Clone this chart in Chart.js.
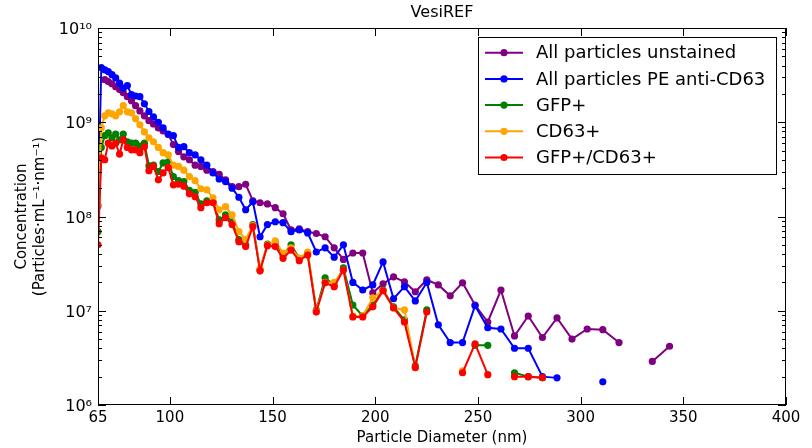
<!DOCTYPE html>
<html>
<head>
<meta charset="utf-8">
<script src="https://cdn.jsdelivr.net/npm/chart.js@4.4.1/dist/chart.umd.min.js"></script>
<style>
  body { margin: 0; background: #fff; }
</style>
</head>
<body>
<canvas id="chart" width="812" height="448"></canvas>
<script>
// particle diameter bins (nm)
const diameter = [
  65.0, 66.6, 68.3, 70.0, 71.8, 73.6, 75.5, 77.3, 79.3, 81.3,
  83.3, 85.4, 87.6, 89.8, 92.0, 94.4, 96.7, 99.2, 101.7, 104.2,
  106.8, 109.5, 112.3, 115.1, 118.0, 121.0, 124.0, 127.1, 130.3, 133.6,
  136.9, 140.4, 143.9, 147.5, 151.3, 155.1, 159.0, 163.0, 167.1, 171.3,
  175.6, 180.0, 184.5, 189.1, 193.9, 198.8, 203.8, 208.9, 214.2, 219.5,
  225.1, 230.7, 236.5, 242.5, 248.6, 254.8, 261.2, 267.8, 274.5, 281.4,
  288.5, 295.8, 303.2, 310.8, 318.7, 326.7, 334.9, 343.3
];

const unstained = [
  null, null, 2.83e9, 2.7e9, 2.56e9, 2.38e9, 2.22e9, 2.06e9, 1.87e9, 1.69e9,
  1.5e9, 1.32e9, 1.17e9, 1.04e9, 9.6e8, 8.7e8, 8.1e8, 7.4e8, 5.8e8, 4.9e8,
  4.3e8, 4.0e8, 3.5e8, 3.4e8, 3.1e8, 3.0e8, 2.8e8, 2.45e8, 2.07e8, 2.07e8,
  2.2e8, 1.47e8, 1.4e8, 1.36e8, 1.24e8, 1.07e8, 7.2e7, 7.4e7, 6.9e7, 6.6e7,
  6.1e7, 4.65e7, 3.5e7, 4.1e7, 4.1e7, 1.55e7, 1.93e7, 2.29e7, 2.03e7, 1.59e7,
  2.13e7, 1.88e7, 1.44e7, 1.98e7, 1.15e7, 7.6e6, 1.66e7, 5.4e6, 8.8e6, 5.2e6,
  8.4e6, 5.0e6, 6.4e6, 6.3e6, 4.6e6, null, 2.9e6, 4.2e6
];

const peAntiCd63 = [
  1.3e8, 3.8e9, 3.6e9, 3.45e9, 3.2e9, 2.95e9, 2.6e9, 2.3e9, 2.45e9, 1.96e9,
  1.9e9, 1.87e9, 1.57e9, 1.3e9, 1.14e9, 1.0e9, 8.7e8, 7.5e8, 7.2e8, 5.4e8,
  5.5e8, 4.75e8, 4.5e8, 4.0e8, 3.5e8, 2.9e8, 2.5e8, 2.35e8, 2.0e8, 1.6e8,
  1.18e8, 1.43e8, 6.1e7, 8.2e7, 8.8e7, 8.6e7, 6.9e7, 7.2e7, 6.7e7, 4.2e7,
  4.65e7, 3.7e7, 5.0e7, 2.0e7, 1.66e7, 1.88e7, 3.3e7, 1.34e7, 1.8e7, 1.27e7,
  2.0e7, 7.1e6, 4.6e6, 4.6e6, 1.13e7, 6.6e6, 6.4e6, 4.0e6, 4.0e6, 2.0e6,
  1.94e6, null, null, 1.76e6, null, null, null, null
];

const gfpPos = [
  6.9e7, 5.4e8, 7.2e8, 7.7e8, 6.85e8, 7.5e8, 6.5e8, 7.5e8, 6.2e8, 6.0e8,
  6.0e8, 5.6e8, 6.0e8, 3.45e8, 3.5e8, 3.0e8, 3.7e8, 3.8e8, 2.65e8, 2.4e8,
  2.35e8, 1.9e8, 1.8e8, 1.36e8, 1.47e8, 1.43e8, 9.2e7, 1.04e8, 8.8e7, 5.7e7,
  5.0e7, 8.2e7, 2.7e7, 5.1e7, 5.3e7, 3.9e7, 5.0e7, 3.6e7, 4.1e7, 1.02e7,
  2.24e7, 1.88e7, 2.85e7, 1.15e7, 8.8e6, 1.15e7, 1.66e7, 1.1e7, 8.0e6, 2.6e6,
  1.02e7, null, null, null, 4.3e6, 4.3e6, null, 2.2e6, 2.0e6, 1.95e6,
  null, null, null, null, null, null, null, null
];

const cd63Pos = [
  1.33e8, 8.7e8, 1.17e9, 1.26e9, 1.23e9, 1.17e9, 1.29e9, 1.5e9, 1.29e9, 1.26e9,
  1.09e9, 9.4e8, 7.9e8, 6.85e8, 6.2e8, 5.4e8, 4.75e8, 4.5e8, 3.5e8, 3.4e8,
  3.1e8, 2.65e8, 2.4e8, 1.97e8, 1.92e8, 1.58e8, 1.18e8, 1.27e8, 1.04e8, 6.9e7,
  5.7e7, 8.0e7, 2.8e7, 5.0e7, 5.5e7, 4.1e7, 4.65e7, 3.6e7, 4.2e7, 1.0e7,
  2.0e7, 2.0e7, 2.7e7, 8.8e6, 8.8e6, 1.37e7, 1.63e7, 1.07e7, 1.02e7, 2.5e6,
  null, null, null, 2.3e6, null, null, null, null, null, null,
  null, null, null, null, null, null, null, null
];

const gfpCd63Pos = [
  5.0e7, 4.2e8, 4.0e8, 6.0e8, 5.6e8, 6.0e8, 4.6e8, 6.5e8, 5.4e8, 5.1e8,
  5.1e8, 4.75e8, 5.5e8, 3.06e8, 3.4e8, 2.45e8, 2.9e8, 3.3e8, 2.17e8, 2.2e8,
  2.1e8, 1.74e8, 1.62e8, 1.24e8, 1.4e8, 1.4e8, 8.4e7, 9.7e7, 8.2e7, 5.4e7,
  4.8e7, 7.8e7, 2.65e7, 4.9e7, 4.8e7, 3.6e7, 4.4e7, 3.4e7, 3.9e7, 9.7e6,
  1.98e7, 1.8e7, 2.7e7, 8.6e6, 8.6e6, 1.1e7, 1.63e7, 1.07e7, 7.6e6, 2.5e6,
  9.7e6, null, null, 2.2e6, 4.45e6, 2.1e6, null, 2.0e6, 2.0e6, 1.95e6,
  null, null, null, null, null, null, null, null
];

const seriesNames = ["All particles unstained", "All particles PE anti-CD63", "GFP+", "CD63+", "GFP+/CD63+"];
const seriesColors = ["#800080", "#0000ff", "#008000", "#ffa500", "#ff0000"];
const seriesValues = [unstained, peAntiCd63, gfpPos, cd63Pos, gfpCd63Pos];

const xTicks = [65, 100, 150, 200, 250, 300, 350, 400];
const yTicks = [1e6, 1e7, 1e8, 1e9, 1e10];
const yTickLabels = ["10⁶", "10⁷", "10⁸", "10⁹", "10¹⁰"];
const chartTitle = "VesiREF";

const FONT = "'DejaVu Sans', sans-serif";
Chart.defaults.color = "#000";
Chart.defaults.font.family = FONT;

const datasets = seriesValues.map((vals, i) => ({
  label: seriesNames[i],
  data: diameter.map((d, j) => ({ x: d, y: vals[j] })),
  borderColor: seriesColors[i],
  backgroundColor: seriesColors[i],
  pointBackgroundColor: seriesColors[i],
  pointBorderColor: seriesColors[i],
  pointBorderWidth: 0,
  pointRadius: 3.6,
  borderWidth: 2,
  tension: 0,
  spanGaps: false,
  clip: 0,
  order: seriesNames.length - i
}));

// inward ticks + axes box, like the classic matplotlib look
const frame = {
  id: "frame",
  afterDatasetsDraw(chart) {
    const { ctx, chartArea: a, scales: { x, y } } = chart;
    ctx.save();
    ctx.strokeStyle = "#000";
    ctx.lineWidth = 1;
    ctx.beginPath();
    xTicks.forEach(v => {
      const px = Math.round(x.getPixelForValue(v)) + 0.5;
      ctx.moveTo(px, a.bottom); ctx.lineTo(px, a.bottom - 8);
      ctx.moveTo(px, a.top); ctx.lineTo(px, a.top + 8);
    });
    for (let d = 6; d < 10; d++) {
      for (let m = 1; m < 10; m++) {
        const py = Math.round(y.getPixelForValue(m * Math.pow(10, d))) + 0.5;
        const len = m === 1 ? 8 : 4;
        ctx.moveTo(a.left, py); ctx.lineTo(a.left + len, py);
        ctx.moveTo(a.right, py); ctx.lineTo(a.right - len, py);
      }
    }
    ctx.stroke();
    ctx.strokeRect(Math.round(a.left) + 0.5, Math.round(a.top) + 0.5,
      Math.round(a.right - a.left) - 1, Math.round(a.bottom - a.top) - 1);

    // title centred over the plot area
    ctx.fillStyle = "#000";
    ctx.font = "16px " + FONT;
    ctx.textAlign = "center";
    ctx.textBaseline = "middle";
    ctx.fillText(chartTitle, (a.left + a.right) / 2, 13);
    ctx.restore();
  }
};

const boxLegend = {
  id: "boxLegend",
  afterDraw(chart) {
    const ctx = chart.ctx;
    ctx.save();
    ctx.fillStyle = "#fff";
    ctx.fillRect(478.5, 37.5, 298, 137);
    ctx.strokeStyle = "#000";
    ctx.lineWidth = 1;
    ctx.strokeRect(478.5, 37.5, 298, 137);
    ctx.font = "18px " + FONT;
    ctx.textBaseline = "middle";
    chart.data.datasets.forEach((ds, i) => {
      const cy = 52.7 + i * 26.2;
      ctx.strokeStyle = ds.borderColor;
      ctx.lineWidth = 2;
      ctx.beginPath();
      ctx.moveTo(485, cy); ctx.lineTo(523, cy);
      ctx.stroke();
      ctx.fillStyle = ds.borderColor;
      ctx.beginPath();
      ctx.arc(504, cy, 3.6, 0, Math.PI * 2);
      ctx.fill();
      ctx.fillStyle = "#000";
      ctx.fillText(ds.label, 536, cy + 1);
    });
    ctx.restore();
  }
};

new Chart(document.getElementById("chart"), {
  type: "line",
  data: { datasets },
  options: {
    responsive: false,
    animation: false,
    layout: { padding: { left: 0, right: 26, top: 28, bottom: 0 } },
    plugins: {
      legend: { display: false },
      tooltip: { enabled: false },
      title: { display: false }
    },
    scales: {
      x: {
        type: "linear",
        min: 65,
        max: 400,
        grid: { display: false, drawTicks: false },
        border: { display: false },
        afterBuildTicks: s => { s.ticks = xTicks.map(v => ({ value: v })); },
        afterFit: s => { s.height = 43; },
        ticks: {
          autoSkip: false,
          maxRotation: 0,
          padding: 4,
          font: { size: 15 },
          callback: v => String(v)
        },
        title: {
          display: true,
          text: "Particle Diameter (nm)",
          font: { size: 15 },
          padding: { top: 0, bottom: 1 }
        }
      },
      y: {
        type: "logarithmic",
        min: 1e6,
        max: 1e10,
        grid: { display: false, drawTicks: false },
        border: { display: false },
        afterBuildTicks: s => { s.ticks = yTicks.map(v => ({ value: v })); },
        afterFit: s => { s.width = 98; },
        ticks: {
          autoSkip: false,
          padding: 6,
          labelOffset: 2,
          font: { size: 16 },
          callback: (v, i) => yTickLabels[i]
        },
        title: {
          display: true,
          text: ["Concentration", "(Particles·mL⁻¹·nm⁻¹)"],
          font: { size: 15, lineHeight: 1.2 },
          padding: { top: 13, bottom: 0 }
        }
      }
    }
  },
  plugins: [frame, boxLegend]
});
</script>
</body>
</html>
